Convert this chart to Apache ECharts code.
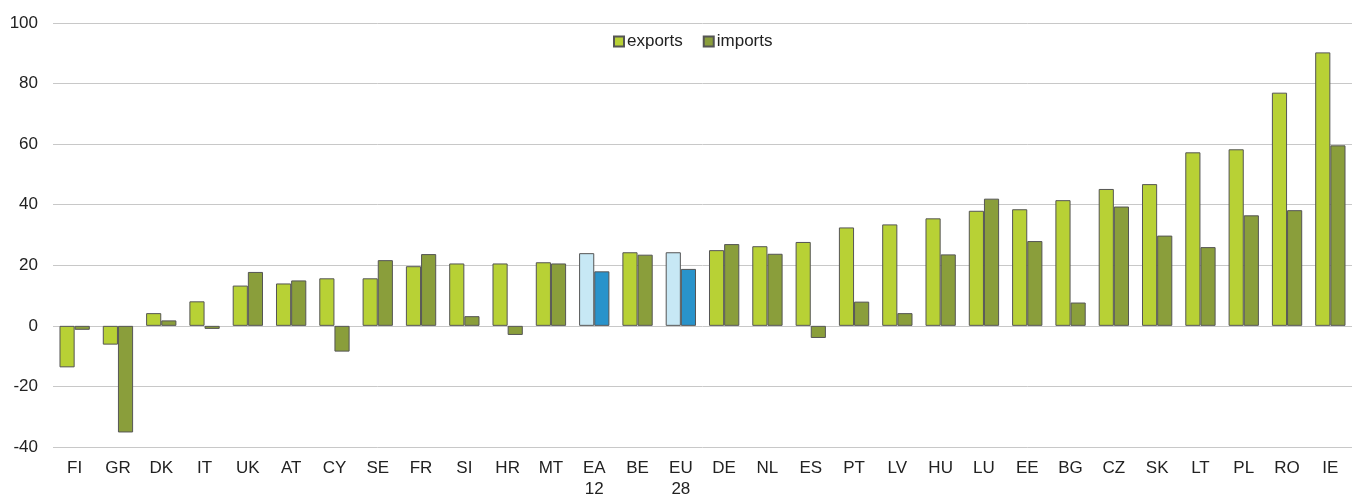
<!DOCTYPE html>
<html>
<head>
<meta charset="utf-8">
<script src="https://cdn.jsdelivr.net/npm/echarts@6/dist/echarts.min.js"></script>
<style>
  html, body { margin: 0; padding: 0; background: #fff; }
  #chart { width: 1360px; height: 494px; }
</style>
</head>
<body>
<div id="chart"></div>
<script>
const categories = ['FI', 'GR', 'DK', 'IT', 'UK', 'AT', 'CY', 'SE', 'FR', 'SI', 'HR', 'MT', 'EA\n12', 'BE', 'EU\n28',
  'DE', 'NL', 'ES', 'PT', 'LV', 'HU', 'LU', 'EE', 'BG', 'CZ', 'SK', 'LT', 'PL', 'RO', 'IE'];
const exportsData = [-13.7, -6.2, 4.2, 8.1, 13.3, 14, 15.7, 15.7, 19.7, 20.6, 20.6, 21, 24, 24.3, 24.3,
  25, 26.3, 27.7, 32.5, 33.5, 35.5, 38, 38.5, 41.5, 45.2, 46.8, 57.3, 58.3, 77, 90.3];
const importsData = [-1.3, -35.2, 1.8, -1, 17.8, 15, -8.5, 21.7, 23.7, 3.2, -3, 20.6, 18, 23.5, 18.8,
  27, 23.8, -4, 8, 4.2, 23.6, 42, 28, 7.7, 39.4, 29.8, 26, 36.5, 38.2, 59.6];
const yTicks = [-40, -20, 0, 20, 40, 60, 80, 100];

const exportColor = '#b8d135';
const importColor = '#8a9e3b';
const aggregates = ['EA\n12', 'EU\n28'];

// EA 12 and EU 28 bars are drawn in blue shades
function makeData(values, highlight) {
  return values.map((v, i) => {
    if (aggregates.includes(categories[i])) {
      return { value: v, itemStyle: { color: highlight } };
    }
    return v;
  });
}

const chart = echarts.init(document.getElementById('chart'));

const option = {
  animation: false,
  textStyle: { fontFamily: 'Liberation Sans, Arial, sans-serif' },
  legend: {
    top: 28,
    left: 608,
    icon: 'rect',
    itemWidth: 10,
    itemHeight: 10,
    itemGap: 20,
    textStyle: { fontSize: 17, color: '#222', padding: [0, 0, 0, -2] },
    data: ['exports', 'imports']
  },
  grid: {
    left: 53,
    right: 8,
    top: 23,
    bottom: 47,
    outerBoundsMode: 'none'
  },
  xAxis: {
    type: 'category',
    data: categories,
    axisLine: { show: false },
    axisTick: { show: false },
    axisLabel: {
      color: '#222',
      fontSize: 17,
      lineHeight: 21,
      margin: 11,
      interval: 0
    }
  },
  yAxis: {
    type: 'value',
    min: yTicks[0],
    max: yTicks[yTicks.length - 1],
    interval: 20,
    axisLine: { show: false },
    axisTick: { show: false },
    axisLabel: { color: '#222', fontSize: 17, margin: 15 },
    splitLine: { lineStyle: { color: '#c8c8c8', width: 1 } }
  },
  series: [
    {
      name: 'exports',
      type: 'bar',
      data: makeData(exportsData, '#c7e8f5'),
      barGap: '0%',
      barCategoryGap: '30%',
      itemStyle: { color: exportColor, borderColor: '#555', borderWidth: 1 }
    },
    {
      name: 'imports',
      type: 'bar',
      data: makeData(importsData, '#2993cb'),
      itemStyle: { color: importColor, borderColor: '#555', borderWidth: 1 }
    }
  ]
};

chart.setOption(option);
</script>
</body>
</html>
